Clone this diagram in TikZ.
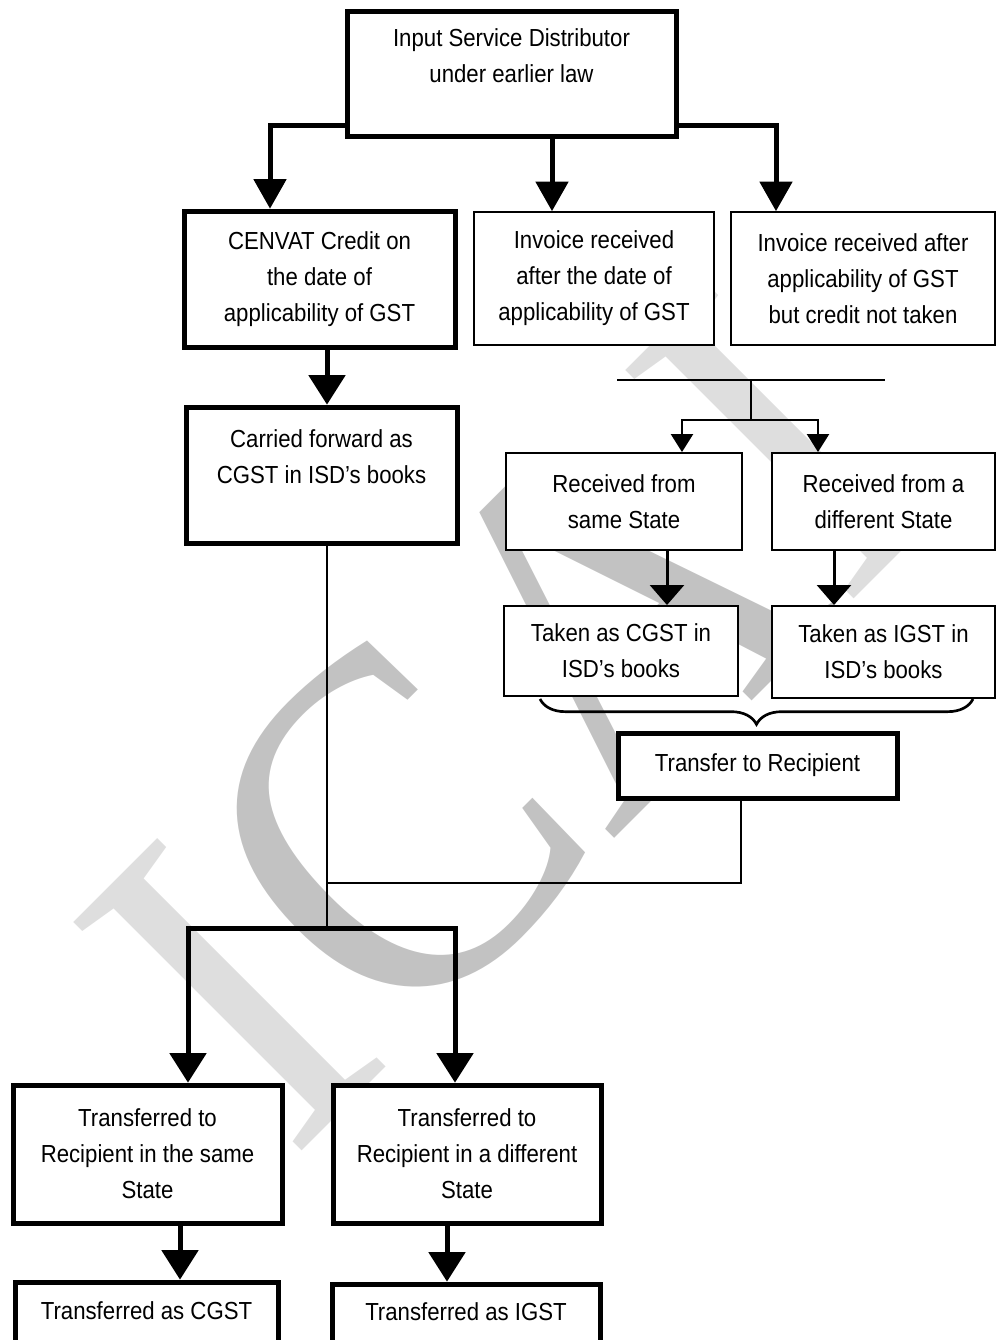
\documentclass[tikz,border=0pt]{standalone}
\usepackage{fontspec}
\setmainfont{Liberation Sans}[FakeStretch=0.9]
\newfontfamily\wmfont{Liberation Serif}[FakeStretch=0.92]
\usetikzlibrary{arrows.meta,decorations.pathreplacing}
\pgfdeclarelayer{wm}
\pgfdeclarelayer{links}
\pgfsetlayers{wm,links,main}
\definecolor{wmC}{gray}{0.76}
\definecolor{wmI}{gray}{0.87}
\begin{document}
\begin{tikzpicture}[x=0.75pt,y=-0.75pt,
  box/.style={draw, fill=white, align=center, inner sep=0pt, font=\fontsize{18.5}{27}\selectfont},
  thickbox/.style={box, line width=3.75pt},
  thinbox/.style={box, line width=1.5pt},
  wh/.style 2 args={minimum width=#1*0.75pt, minimum height=#2*0.75pt},
  thickline/.style={line width=3.75pt},
  thinline/.style={line width=1.1pt},
  medline/.style={line width=2pt},
  bigarrow/.style={thickline, -{Triangle[width=25pt,length=22pt,line width=0pt]}},
  bigarrowb/.style={thickline, -{Triangle[width=28pt,length=22pt,line width=0pt]}},
  smallarrow/.style={medline, -{Triangle[width=17pt,length=13.5pt,line width=0pt]}},
  midarrow/.style={line width=2.25pt, -{Triangle[width=26pt,length=15pt,line width=0pt]}}
]
\useasboundingbox (0,0) rectangle (996,1340);

% boxes
\node[thickbox, wh={329}{125}] (isd) at (511.5,74) {Input Service Distributor\\under earlier law\\ \mbox{}};
\node[thickbox, wh={271}{136}] (cenvat) at (319.5,279) {CENVAT Credit on\\the date of\\applicability of GST};
\node[thinbox, wh={240}{133}] (inv) at (594,278.5) {Invoice received\\after the date of\\applicability of GST};
\node[thinbox, wh={264}{133}] (inv2) at (863,278.5) {Invoice received after\\applicability of GST\\but credit not taken};
\node[thickbox, wh={271}{136}] (cf) at (321.5,475) {Carried forward as\\CGST in ISD’s books\\ \mbox{}};
\node[thinbox, wh={236}{97}] (rsame) at (624,501.5) {Received from\\same State};
\node[thinbox, wh={223}{97}] (rdiff) at (883.5,501.5) {Received from a\\different State};
\node[thinbox, wh={234}{90}] (tcgst) at (621,651) {Taken as CGST in\\ISD’s books};
\node[thinbox, wh={223}{92}] (tigst) at (883.5,652) {Taken as IGST in\\ISD’s books};
\node[thickbox, wh={279}{65}] (tr) at (757.5,765.5) {Transfer to Recipient};
\node[thickbox, wh={269}{138}] (ts) at (147.5,1154) {Transferred to\\Recipient in the same\\State};
\node[thickbox, wh={268}{138}] (td) at (467,1154) {Transferred to\\Recipient in a different\\State};
\node[thickbox, wh={263}{94}] (cg) at (146.5,1329) {Transferred as CGST\\ \mbox{}};
\node[thickbox, wh={268}{92}] (ig) at (466,1330) {Transferred as IGST\\ \mbox{}};

% coordinates
\coordinate (bL) at (270,125);
\coordinate (bR) at (776,125);
\coordinate (xm) at (552,0);
\coordinate (xc) at (327,0);
\coordinate (bl) at (188,928);
\coordinate (br) at (455,928);
\coordinate (x1) at (180,0);
\coordinate (x2) at (447,0);
\coordinate (xt) at (741,0);
\coordinate (jn) at (327,883);
\coordinate (hL) at (617,380);
\coordinate (hR) at (885,380);
\coordinate (hm) at (751,380);
\coordinate (sL) at (682,420);
\coordinate (sR) at (818,420);
\coordinate (xa) at (667,0);
\coordinate (xb) at (834,0);
\coordinate (bA) at (540,699);
\coordinate (bB) at (973,699);

\begin{pgfonlayer}{links}
\draw[thickline, line cap=rect] (bL) -- (bR);
\draw[bigarrow] (bL) -- (bL |- cenvat.north);
\draw[bigarrow] (isd.south -| xm) -- (inv.north -| xm);
\draw[bigarrow] (bR) -- (bR |- inv2.north);
\draw[bigarrowb] (cenvat.south -| xc) -- (cf.north -| xc);
\draw[thinline] (cf.south -| xc) -- (xc |- bl);
\draw[thinline] (tr.south -| xt) |- (jn);
\draw[thickline, line cap=rect] (bl) -- (br);
\draw[bigarrowb] (bl) -- (bl |- ts.north);
\draw[bigarrowb] (br) -- (br |- td.north);
\draw[bigarrowb] (ts.south -| x1) -- (cg.north -| x1);
\draw[bigarrowb] (td.south -| x2) -- (ig.north -| x2);
\draw[medline] (hL) -- (hR);
\draw[medline] (hm) -- (hm |- sL);
\draw[medline, line cap=rect] (sL) -- (sR);
\draw[smallarrow] (sL) -- (sL |- rsame.north);
\draw[smallarrow] (sR) -- (sR |- rdiff.north);
\draw[midarrow] (rsame.south -| xa) -- (tcgst.north -| xa);
\draw[midarrow] (rdiff.south -| xb) -- (tigst.north -| xb);
\draw[medline, decorate, decoration={brace, mirror, amplitude=19pt}] (bA) -- (bB);
\end{pgfonlayer}

\begin{pgfonlayer}{wm}
\node[anchor=base west, rotate=45, inner sep=0pt, font=\wmfont\fontsize{370}{370}\selectfont] (wmark) at (290,1163) {\textcolor{wmI}{I}\textcolor{wmC}{CA}\textcolor{wmI}{I}};
\end{pgfonlayer}
\end{tikzpicture}
\end{document}
